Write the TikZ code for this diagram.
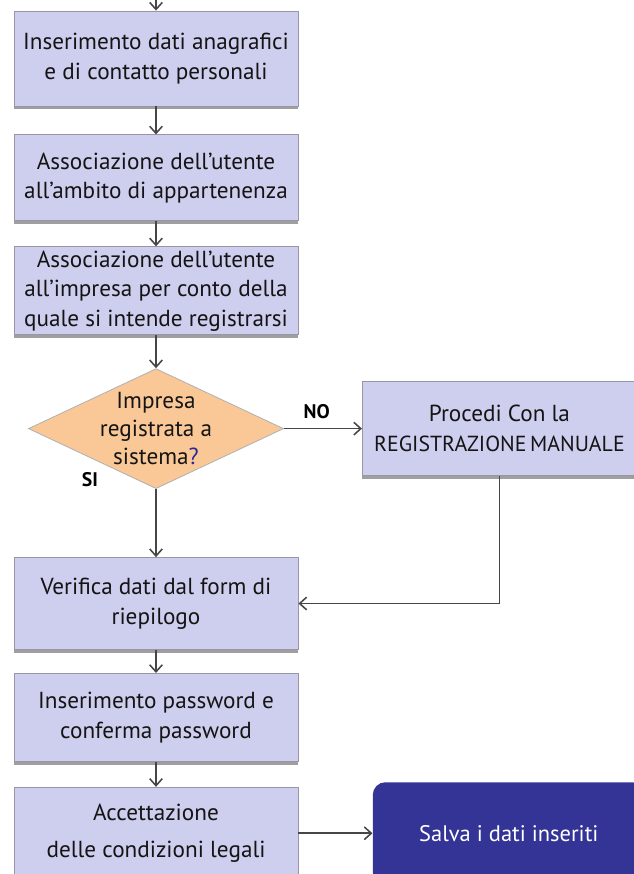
\documentclass[tikz,border=0pt]{standalone}
\usepackage{fontspec}
\setmainfont{PT Sans}
\usetikzlibrary{shapes.geometric,arrows.meta,positioning,shadows}
\definecolor{boxlilac}{RGB}{206,206,238}
\definecolor{boxedge}{RGB}{150,150,165}
\definecolor{decpeach}{RGB}{250,200,150}
\definecolor{savenavy}{RGB}{52,52,150}
\definecolor{linegray}{RGB}{70,70,70}
\definecolor{qblue}{RGB}{40,40,150}

\begin{document}
\begin{tikzpicture}[
    x=0.025cm, y=-0.025cm,
    node distance=0.7cm and 1.9cm,
    stepbox/.style={rectangle, draw=boxedge, fill=boxlilac, line width=0.6pt,
                minimum width=7.1cm, minimum height=2.2cm, align=center, inner sep=1pt,
                font=\fontsize{16.5}{21}\selectfont, text=black!92,
                drop shadow={shadow xshift=0pt, shadow yshift=-2.2pt, fill=gray!75, opacity=1}},
    decision/.style={diamond, draw=gray!60, fill=decpeach, line width=0.6pt,
                minimum width=6.375cm, minimum height=3cm, inner sep=0pt},
    savebox/.style={rectangle, fill=savenavy, rounded corners=9pt,
                minimum width=6.8cm, minimum height=2.55cm, align=center,
                font=\fontsize{16}{21}\selectfont, text=white},
    lbl/.style={font=\fontsize{14}{16}\selectfont\bfseries, text=black},
    arrow/.style={-{Straight Barb[length=5pt,width=9pt]}, line width=1.1pt, linegray}
]
\useasboundingbox (0,0) rectangle (633,874);

\node[stepbox, minimum height=2.375cm] (anag) at (156,58.5) {Inserimento dati anagrafici\\e di contatto personali};
\node[stepbox, minimum height=2.15cm, below=0.7cm of anag] (ambito) {Associazione dell'utente\\all'ambito di appartenenza};
\node[stepbox, below=0.625cm of ambito] (impresa) {Associazione dell'utente\\all'impresa per conto della\\quale si intende registrarsi};
\node[decision, below=0.825cm of impresa,
      label={[font=\fontsize{16.5}{20}\selectfont, text=black!92, align=center]center:Impresa\\registrata a\\sistema{\color{qblue}?}}] (dec) {};
\node[stepbox, minimum width=6.85cm, minimum height=2.35cm, right=1.95cm of dec] (manuale) {Procedi Con la\\{\fontsize{15.5}{21}\selectfont REGISTRAZIONE\,MANUALE}};
\node[stepbox, minimum height=2.3cm, below=1.7cm of dec] (verifica) {Verifica dati dal form di\\riepilogo};
\node[stepbox, below=0.575cm of verifica] (password) {Inserimento password e\\conferma password};
\node[stepbox, minimum height=2.3cm, below=0.625cm of password] (legali) {Accettazione\\[5pt]delle condizioni legali};
\node[savebox, right=1.85cm of legali] (salva) {Salva i dati inseriti};

\coordinate (entry) at (156,0);
\node[lbl] (si) at (90,480) {SI};

\draw[arrow] (entry) -- (anag);
\draw[arrow] (anag) -- (ambito);
\draw[arrow] (ambito) -- (impresa);
\draw[arrow] (impresa) -- (dec);
\draw[arrow] (dec) -- node[lbl, pos=0.42, above=3pt] {NO} (manuale);
\draw[arrow] (dec) -- (verifica);
\draw[arrow] (manuale.south) |- (verifica.east);
\draw[arrow] (verifica) -- (password);
\draw[arrow] (password) -- (legali);
\draw[arrow] (legali) -- (salva);
\end{tikzpicture}
\end{document}
